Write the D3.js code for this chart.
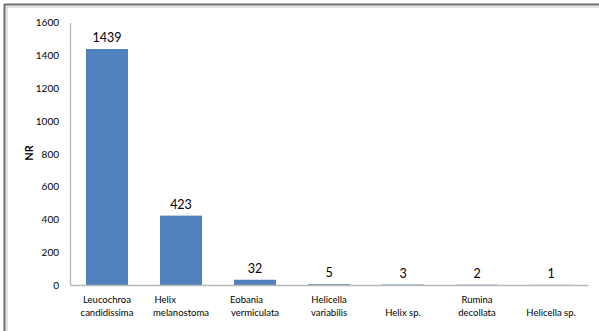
<!DOCTYPE html>
<html>
<head>
<meta charset="utf-8">
<script src="https://cdn.jsdelivr.net/npm/d3@7"></script>
<style>
  html, body { margin: 0; padding: 0; background: #fff; }
  svg { display: block; }
  .cat { white-space: pre; }
</style>
</head>
<body>
<svg id="chart" width="599" height="331"></svg>
<script>
// Species names (line-broken as shown under the axis)
const species = [
  ["Leucochroa", "candidissima"],
  ["Helix             ", "melanostoma"],
  ["Eobania       ", "vermiculata"],
  ["Helicella", "variabilis"],
  ["Helix sp."],
  ["Rumina", "decollata"],
  ["Helicella sp."]
];
// Number of remains per species
const counts = [1439, 423, 32, 5, 3, 2, 1];
const yTicks = [0, 200, 400, 600, 800, 1000, 1200, 1400, 1600];
const yTitle = "NR";

const W = 599, H = 331;
const plot = { left: 70, right: 588, top: 22.6, bottom: 285 };
const font = "Lato, 'Open Sans', sans-serif";

const svg = d3.select("#chart");

// Outer frame: double line on top and left
svg.append("line").attr("x1", 4).attr("x2", W).attr("y1", 4.5).attr("y2", 4.5)
  .attr("stroke", "#6e6e6e").attr("stroke-width", 2);
svg.append("line").attr("x1", 6).attr("x2", W).attr("y1", 7).attr("y2", 7)
  .attr("stroke", "#c8c8c8").attr("stroke-width", 1);
svg.append("line").attr("x1", 4.5).attr("x2", 4.5).attr("y1", 4).attr("y2", H)
  .attr("stroke", "#6e6e6e").attr("stroke-width", 2);
svg.append("line").attr("x1", 7).attr("x2", 7).attr("y1", 6).attr("y2", H)
  .attr("stroke", "#c8c8c8").attr("stroke-width", 1);

const keys = species.map((d, i) => i);
const x = d3.scaleBand().domain(keys).range([plot.left, plot.right]).paddingInner(0.432).paddingOuter(0.216);
const y = d3.scaleLinear().domain([0, 1600]).range([plot.bottom, plot.top]);

// Bars
svg.append("g").selectAll("rect").data(counts).join("rect")
  .attr("x", (d, i) => x(i))
  .attr("width", x.bandwidth())
  .attr("y", d => y(d))
  .attr("height", d => y(0) - y(d))
  .attr("fill", "#4f81bd");

// Value labels
svg.append("g").selectAll("text").data(counts).join("text")
  .attr("x", (d, i) => x(i) + x.bandwidth() / 2)
  .attr("y", d => y(d) - 7)
  .attr("text-anchor", "middle")
  .attr("font-family", font)
  .attr("font-size", 12.5)
  .attr("fill", "#000")
  .text(d => d);

// Y axis
const yAxis = svg.append("g").attr("transform", `translate(${plot.left},0)`)
  .call(d3.axisLeft(y).tickValues(yTicks).tickFormat(d3.format("d")).tickSize(0).tickPadding(11));
yAxis.select(".domain").attr("stroke", "#b8b8b8").attr("stroke-width", 1.3);
yAxis.selectAll("text").attr("font-family", font).attr("font-size", 10).attr("fill", "#000");

// X axis line
const xAxis = svg.append("g").attr("transform", `translate(0,${plot.bottom})`)
  .call(d3.axisBottom(x).tickSize(0).tickFormat(""));
xAxis.select(".domain").attr("stroke", "#b8b8b8").attr("stroke-width", 1.3);

// Category labels, bottom-aligned on two lines
const lbl = svg.append("g").selectAll("text").data(species).join("text")
  .attr("class", "cat")
  .attr("text-anchor", "middle")
  .attr("font-family", font)
  .attr("font-size", 9.5)
  .attr("fill", "#000");
lbl.each(function(lines, i) {
  const t = d3.select(this);
  const cx = x(i) + x.bandwidth() / 2;
  lines.forEach((s, j) => {
    t.append("tspan")
      .attr("x", cx)
      .attr("y", 316 - (lines.length - 1 - j) * 13)
      .text(s);
  });
});

// Y axis title
svg.append("text")
  .attr("transform", `translate(33,153) rotate(-90)`)
  .attr("text-anchor", "middle")
  .attr("font-family", font)
  .attr("font-weight", "bold")
  .attr("font-size", 11)
  .attr("fill", "#000")
  .text(yTitle);
</script>
</body>
</html>
